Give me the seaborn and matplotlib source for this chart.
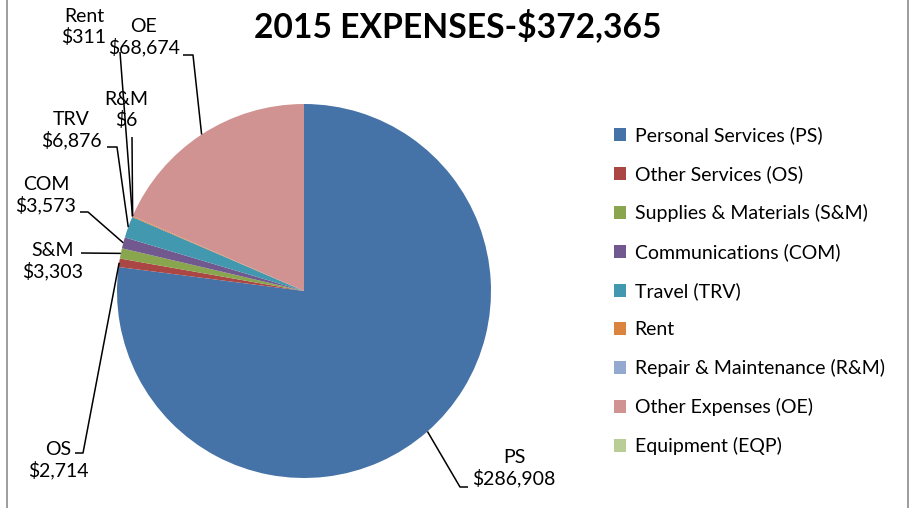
import numpy as np
import matplotlib
matplotlib.use('Agg')
import matplotlib.pyplot as plt
from matplotlib.lines import Line2D
import seaborn as sns

# --- data ---
categories = ['Personal Services (PS)', 'Other Services (OS)', 'Supplies & Materials (S&M)',
              'Communications (COM)', 'Travel (TRV)', 'Rent', 'Repair & Maintenance (R&M)',
              'Other Expenses (OE)', 'Equipment (EQP)']
abbrevs = ['PS', 'OS', 'S&M', 'COM', 'TRV', 'Rent', 'R&M', 'OE', 'EQP']
amounts = [286908, 2714, 3303, 3573, 6876, 311, 6, 68674, 0]
colors = ['#4572A7', '#AA4643', '#89A54E', '#71588F', '#4198AF',
          '#DB843D', '#93A9CF', '#D19392', '#B9CD96']
title = '2015 EXPENSES-$372,365'

# label block centres and leader elbows, in pixels from the top-left corner
label_pos = {'PS': (514, 468), 'OS': (58, 460), 'S&M': (53, 261), 'COM': (46, 195),
             'TRV': (71, 130), 'R&M': (126, 110), 'Rent': (84, 27), 'OE': (144, 37)}
leader_pts = {'PS': [(468, 487), (460, 487)], 'OS': [(75, 453), (83, 453)],
              'S&M': [(81, 253)], 'COM': [(80, 212), (88, 212)],
              'TRV': [(107, 147), (117, 147)], 'R&M': [(132, 137)],
              'Rent': [(120, 52)], 'OE': [(183, 55), (193, 55)]}

W, H = 912, 508
CX, CY, R = 304, 291, 187

sns.set_theme(style='white')
plt.rcParams['font.family'] = ['Lato', 'DejaVu Sans']
plt.rcParams['text.color'] = 'black'

fig = plt.figure(figsize=(W / 100, H / 100), dpi=100)
fig.patch.set_facecolor('white')

ax = fig.add_axes([(CX - R) / W, (H - CY - R) / H, 2 * R / W, 2 * R / H])
wedges, _ = ax.pie(amounts, colors=colors, startangle=90, counterclock=False,
                   radius=1, wedgeprops=dict(linewidth=0))
ax.set_xlim(-1, 1)
ax.set_ylim(-1, 1)
ax.set_aspect('equal')
ax.axis('off')

# overlay in pixel coordinates for labels and leader lines
ov = fig.add_axes([0, 0, 1, 1], facecolor='none')
ov.set_xlim(0, W)
ov.set_ylim(H, 0)
ov.axis('off')

for w, ab, amt in zip(wedges, abbrevs, amounts):
    if ab not in label_pos:
        continue
    mid = np.deg2rad((w.theta1 + w.theta2) / 2)
    ax_pt = (CX + R * np.cos(mid), CY - R * np.sin(mid))
    tx, ty = label_pos[ab]
    ov.text(tx, ty, f'{ab}\n${amt:,}', ha='center', va='center', fontsize=14,
            linespacing=1.2, color='black', multialignment='center')
    pts = leader_pts[ab] + [ax_pt]
    xs, ys = zip(*pts)
    ov.plot(xs, ys, color='black', lw=1.1, solid_capstyle='butt')

ov.text(458, 26, title, ha='center', va='center', fontsize=24.2, fontweight='bold',
        color='black')

leg = fig.legend(wedges, categories, loc='center left', bbox_to_anchor=(606 / W, 1 - 291 / H),
                 frameon=False, fontsize=14, handlelength=0.62, handleheight=0.62,
                 handletextpad=0.45, labelspacing=1.08, borderaxespad=0)
for t in leg.get_texts():
    t.set_color('black')

# chart-area frame edges
fig.add_artist(Line2D([7 / W, 7 / W], [0, 1], color='#8c8c8c', lw=1.2))
fig.add_artist(Line2D([908 / W, 908 / W], [0, 1], color='#8c8c8c', lw=1.2))

fig.savefig('out.png', dpi=100, facecolor='white')
